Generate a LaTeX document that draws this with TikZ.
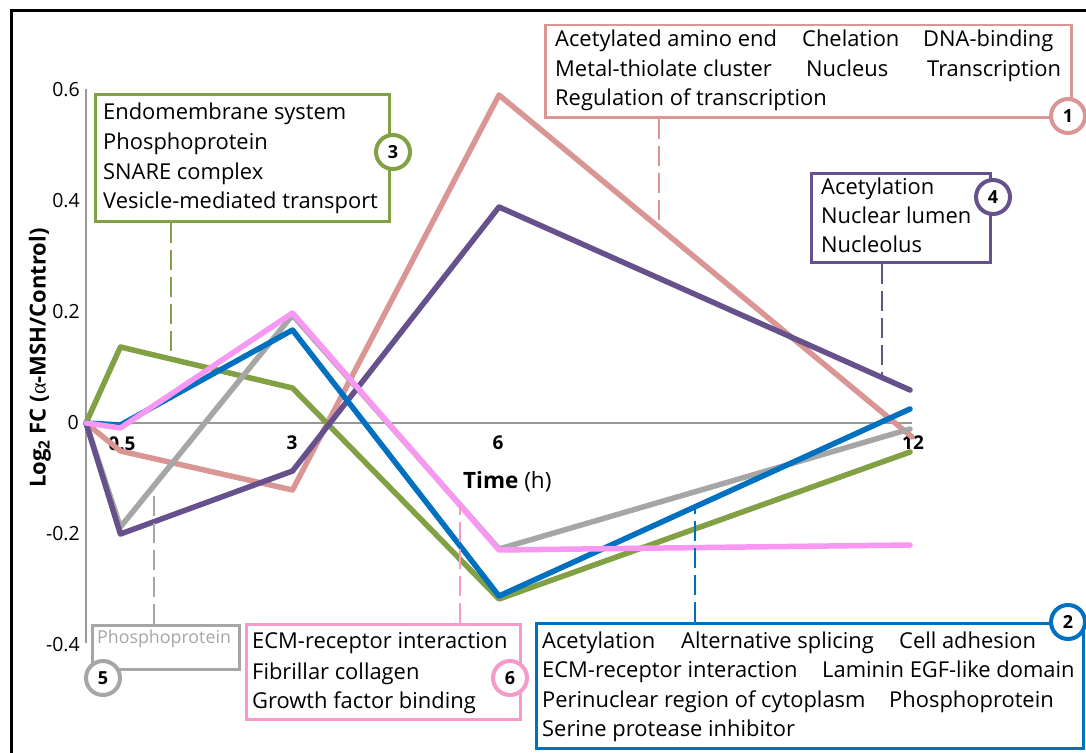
\documentclass[tikz,border=0pt]{standalone}
\usepackage{fontspec}
\setmainfont{Open Sans}
\newfontfamily\symf{Liberation Serif}
\definecolor{cA}{HTML}{D99694}
\definecolor{cB}{HTML}{0070C0}
\definecolor{cC}{HTML}{82A044}
\definecolor{cD}{HTML}{66518C}
\definecolor{cE}{HTML}{A6A6A6}
\definecolor{cF}{HTML}{F998F2}
\definecolor{cFb}{HTML}{F59AC9}
\definecolor{axisgray}{HTML}{999999}
\newcommand{\mainfs}{\fontsize{21.9}{24}\selectfont}
\begin{document}
\begin{tikzpicture}[x=1pt,y=-1pt,
  series/.style={line width=5.5, line cap=round, line join=round},
  box/.style={draw, line width=2.5, anchor=north west, inner sep=0, fill=none},
  lbl/.style={anchor=base west, inner sep=0, font=\mainfs},
  num/.style={circle, draw, line width=4, fill=white, minimum size=34, inner sep=0, font=\bfseries\fontsize{18}{18}\selectfont},
  conn/.style={line width=2.5, dash pattern=on 20pt off 7pt},
  tick/.style={inner sep=0, font=\fontsize{19.5}{20}\selectfont},
  xtick/.style={inner sep=0, anchor=base, font=\bfseries\fontsize{19}{20}\selectfont}]
\useasboundingbox (0,0) rectangle (1086,752);
\fill[white] (0,0) rectangle (1086,752);
% frame
\draw[line width=3] (11,770) -- (11,11) -- (1100,11);
% axes
\draw[axisgray, line width=2] (86,89) -- (86,643);
\draw[axisgray, line width=2] (86,423) -- (912,423);
% y tick labels
\node[tick, anchor=east] (y06) at (80,90) {0.6};
\node[tick, anchor=east] (y04) at (80,201) {0.4};
\node[tick, anchor=east] (y02) at (80,312) {0.2};
\node[tick, anchor=east] (y00) at (79,423) {0};
\node[tick, anchor=east] (ym02) at (80,534) {-0.2};
\node[tick, anchor=east] (ym04) at (80,645) {-0.4};
% x tick labels
\node[xtick] (x05) at (122,450) {0.5};
\node[xtick] (x3) at (292,449) {3};
\node[xtick] (x6) at (498,449) {6};
\node[xtick] (x12) at (913,449) {12};
\node[anchor=base west, inner sep=0, font=\fontsize{22.5}{24}\selectfont] (tlab) at (463,488) {\textbf{Time} (h)};
\node[rotate=90, inner sep=0, font=\bfseries\fontsize{22}{24}\selectfont] (ylab) at (40,358) {Log\textsubscript{2} FC ({\symf\mdseries α}-MSH/Control)};
% data series
\draw[series, cA] (86,423) -- (120.4,451) -- (292.5,490) -- (499,95) -- (912,437);
\draw[series, cC] (86,423) -- (120.4,347) -- (292.5,388) -- (499,599) -- (910,452);
\draw[series, cE] (86,423) -- (120.4,527) -- (292.5,315) -- (499,549) -- (910,429);
\draw[series, cD] (86,423) -- (120.4,534) -- (292.5,471) -- (499,207) -- (910,390);
\draw[series, cB] (86,423) -- (120.4,425) -- (292.5,330) -- (499,596) -- (910,409);
\draw[series, cF] (86,423) -- (120.4,428) -- (292.5,313) -- (499,550) -- (910,545);
% connector targets on the lines
\coordinate (p1) at (659,227.5);
\coordinate (p2) at (695,507);
\coordinate (p3) at (171,359);
\coordinate (p4) at (882,377.5);
\coordinate (p5) at (154,486);
\coordinate (p6) at (460,505);
% boxes
\node[box, draw=cA, minimum width=526, minimum height=92] (b1) at (544,24) {};
\node[box, draw=cB, minimum width=547, minimum height=125] (b2) at (535,622) {};
\node[box, draw=cC, minimum width=294, minimum height=127] (b3) at (94,93) {};
\node[box, draw=cD, minimum width=179, minimum height=89] (b4) at (810,172) {};
\node[box, draw=cE, minimum width=147, minimum height=44] (b5) at (91,624) {};
\node[box, draw=cFb, minimum width=274, minimum height=95] (b6) at (245,623) {};
% connectors
\draw[conn, cA] (b1.south -| p1) -- (p1);
\draw[conn, cB] (b2.north -| p2) -- (p2);
\draw[conn, cC] (b3.south -| p3) -- (p3);
\draw[conn, cD] (b4.south -| p4) -- (p4);
\draw[conn, cE] (b5.north -| p5) -- (p5);
\draw[conn, cFb] (b6.north -| p6) -- (p6);
% box 1 text
\node[lbl] (t11) at (555,47) {Acetylated amino end};
\node[lbl] (t12) at (802,47) {Chelation};
\node[lbl] (t13) at (923,47) {DNA-binding};
\node[lbl] (t14) at (555,76) {Metal-thiolate cluster};
\node[lbl] (t15) at (806,76) {Nucleus};
\node[lbl] (t16) at (927,76) {Transcription};
\node[lbl] (t17) at (555,105) {Regulation of transcription};
% box 2 text
\node[lbl] (t21) at (542,648) {Acetylation};
\node[lbl] (t22) at (681,648) {Alternative splicing};
\node[lbl] (t23) at (899,648) {Cell adhesion};
\node[lbl] (t24) at (542,677) {ECM-receptor interaction};
\node[lbl] (t25) at (822,677) {Laminin EGF-like domain};
\node[lbl] (t26) at (542,707) {Perinuclear region of cytoplasm};
\node[lbl] (t27) at (889,707) {Phosphoprotein};
\node[lbl] (t28) at (542,736) {Serine protease inhibitor};
% box 3 text
\node[lbl] (t31) at (103,119) {Endomembrane system};
\node[lbl] (t32) at (103,149) {Phosphoprotein};
\node[lbl] (t33) at (103,179) {SNARE complex};
\node[lbl] (t34) at (103,208) {Vesicle-mediated transport};
% box 4 text
\node[lbl] (t41) at (821,194) {Acetylation};
\node[lbl] (t42) at (821,223) {Nuclear lumen};
\node[lbl] (t43) at (821,252) {Nucleolus};
% box 5 text
\node[lbl, text=cE, font=\fontsize{17.8}{20}\selectfont] (t51) at (97,643) {Phosphoprotein};
% box 6 text
\node[lbl] (t61) at (252,648) {ECM-receptor interaction};
\node[lbl] (t62) at (252,679) {Fibrillar collagen};
\node[lbl] (t63) at (252,708) {Growth factor binding};
% number circles
\node[num, draw=cA] (n1) at (1068,116) {1};
\node[num, draw=cB] (n2) at (1068,622) {2};
\node[num, draw=cC] (n3) at (393,152) {3};
\node[num, draw=cD] (n4) at (993,197) {4};
\node[num, draw=cE] (n5) at (103,678) {5};
\node[num, draw=cFb] (n6) at (510,678) {6};
\end{tikzpicture}
\end{document}
